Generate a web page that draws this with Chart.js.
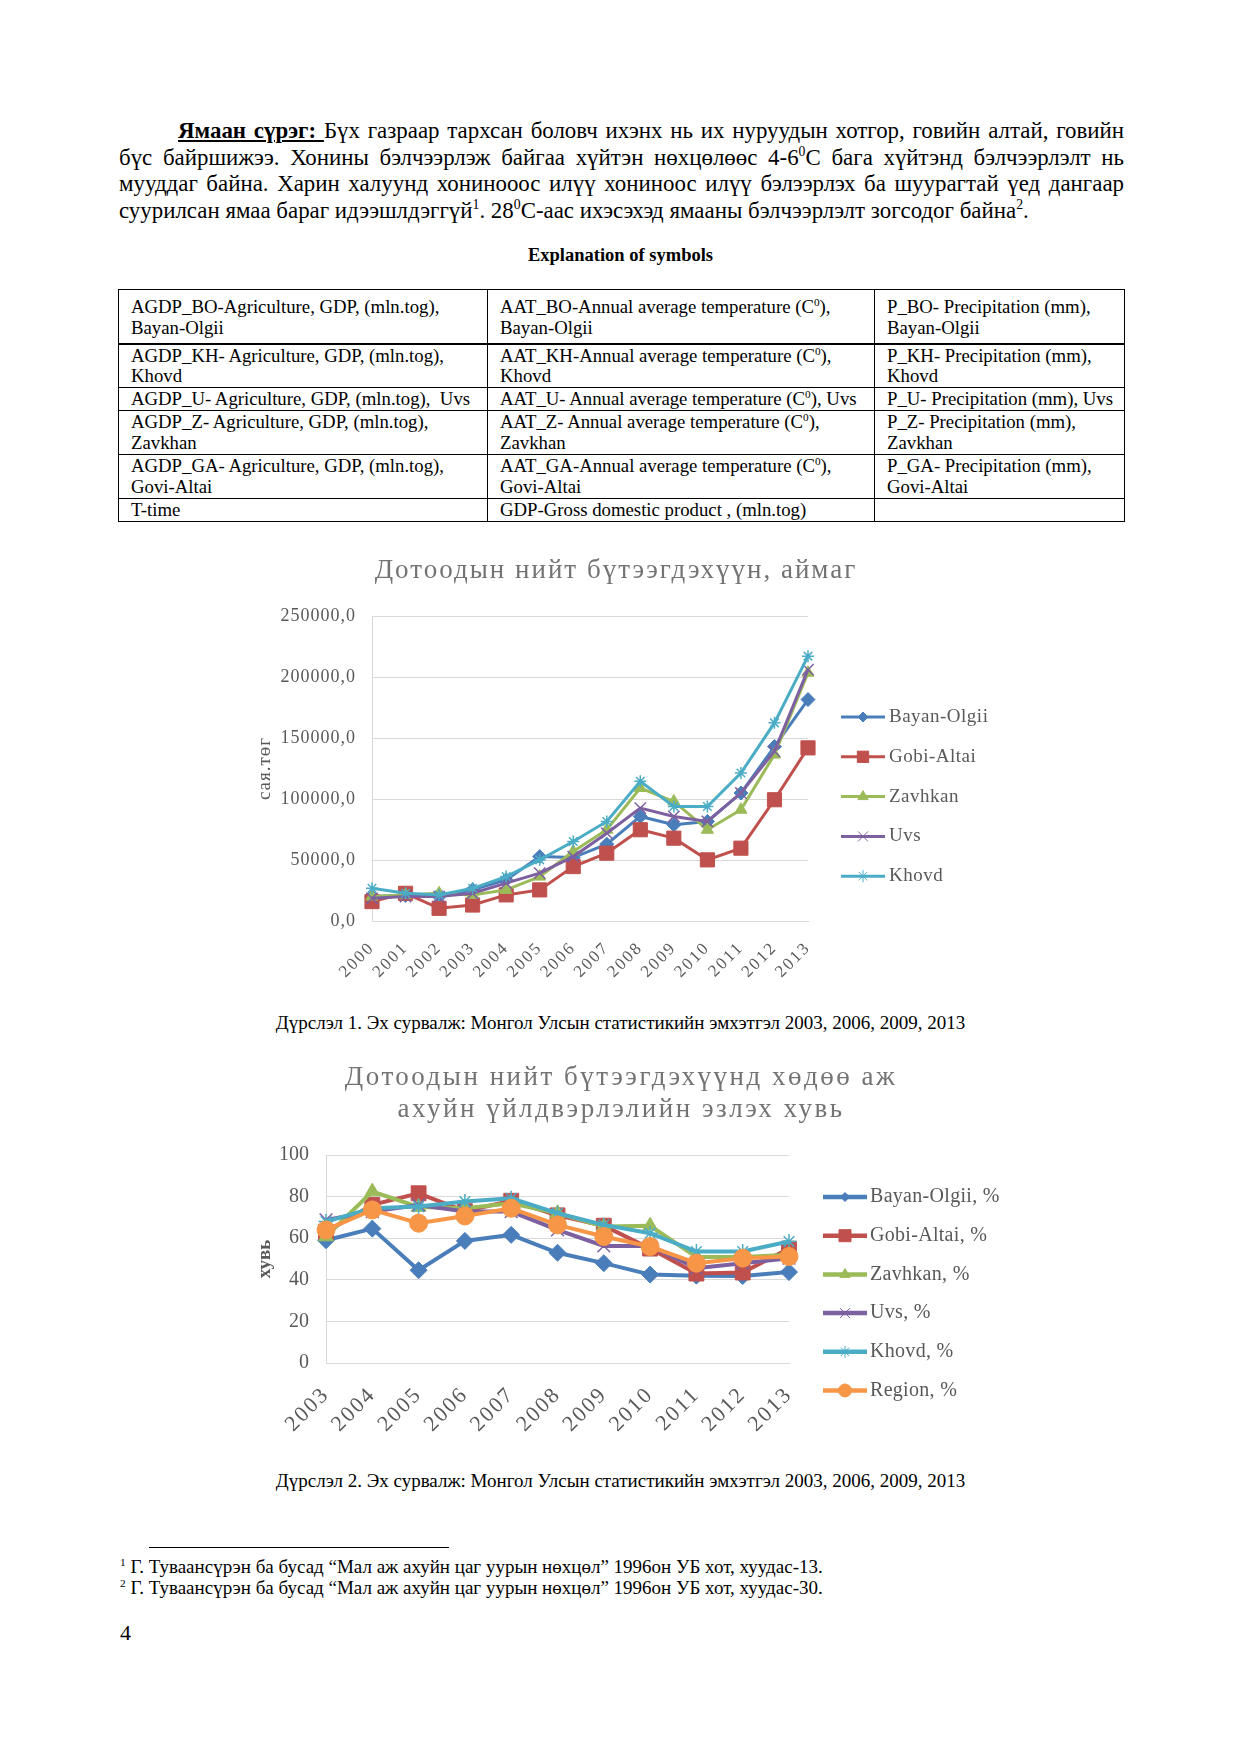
<!DOCTYPE html>
<html>
<head>
<meta charset="utf-8">
<script src="https://cdn.jsdelivr.net/npm/chart.js@4.4.1/dist/chart.umd.min.js"></script>
<style>
  html, body { margin: 0; padding: 0; background: #fff; }
  #page { position: relative; width: 1241px; height: 1755px; font-family: "Liberation Serif", "Times New Roman", serif; color: #000; }
  .abs { position: absolute; }
  .para { left: 119px; width: 1005px; top: 118px; font-size: 22.9px; line-height: 26.6px; }
  .ln { text-align: justify; text-align-last: justify; }
  .ln.last { text-align: left; text-align-last: left; }
  sup { font-size: 60%; line-height: 0; vertical-align: super; }
  .expl { left: 0; width: 1241px; top: 245px; text-align: center; font-weight: bold; font-size: 18.5px; }
  table { position: absolute; left: 118px; top: 289px; border-collapse: collapse; table-layout: fixed; font-size: 18.75px; line-height: 20.7px; }
  td { border: 1px solid #000; vertical-align: top; padding: 1px 0 0 12px; box-sizing: border-box; }
  tr.r1 td { padding-top: 7px; border-bottom: 2.5px solid #000; }
  .cap { left: 0; width: 1241px; text-align: center; font-size: 19px; }
  .fn { left: 120px; font-size: 19px; line-height: 21px; }
  canvas { position: absolute; }
</style>
</head>
<body>
<div id="page">
  <div class="abs para">
    <div class="ln" style="text-indent:59px"><b><u>Ямаан сүрэг: </u></b>Бүх газраар тархсан боловч ихэнх нь их нуруудын хотгор, говийн алтай, говийн</div>
    <div class="ln">бүс байршижээ. Хонины бэлчээрлэж байгаа хүйтэн нөхцөлөөс 4-6<sup>0</sup>C бага хүйтэнд бэлчээрлэлт нь</div>
    <div class="ln">мууддаг байна. Харин халуунд хонинооос илүү хониноос илүү бэлээрлэх ба шуурагтай үед дангаар</div>
    <div class="ln last">суурилсан ямаа бараг идээшлдэггүй<sup>1</sup>. 28<sup>0</sup>С-аас ихэсэхэд ямааны бэлчээрлэлт зогсодог байна<sup>2</sup>.</div>
  </div>

  <div class="abs expl">Explanation of symbols</div>

  <table>
    <colgroup><col style="width:369px"><col style="width:387px"><col style="width:250px"></colgroup>
    <tr class="r1" style="height:54px">
      <td>AGDP_BO-Agriculture, GDP, (mln.tog),<br>Bayan-Olgii</td>
      <td>AAT_BO-Annual average temperature (C<sup>0</sup>),<br>Bayan-Olgii</td>
      <td>P_BO- Precipitation (mm),<br>Bayan-Olgii</td>
    </tr>
    <tr style="height:44px">
      <td>AGDP_KH- Agriculture, GDP, (mln.tog),<br>Khovd</td>
      <td>AAT_KH-Annual average temperature (C<sup>0</sup>),<br>Khovd</td>
      <td>P_KH- Precipitation (mm),<br>Khovd</td>
    </tr>
    <tr style="height:23px">
      <td>AGDP_U- Agriculture, GDP, (mln.tog),&nbsp; Uvs</td>
      <td>AAT_U- Annual average temperature (C<sup>0</sup>), Uvs</td>
      <td>P_U- Precipitation (mm), Uvs</td>
    </tr>
    <tr style="height:44px">
      <td>AGDP_Z- Agriculture, GDP, (mln.tog),<br>Zavkhan</td>
      <td>AAT_Z- Annual average temperature (C<sup>0</sup>),<br>Zavkhan</td>
      <td>P_Z- Precipitation (mm),<br>Zavkhan</td>
    </tr>
    <tr style="height:44px">
      <td>AGDP_GA- Agriculture, GDP, (mln.tog),<br>Govi-Altai</td>
      <td>AAT_GA-Annual average temperature (C<sup>0</sup>),<br>Govi-Altai</td>
      <td>P_GA- Precipitation (mm),<br>Govi-Altai</td>
    </tr>
    <tr style="height:22px">
      <td>T-time</td>
      <td>GDP-Gross domestic product , (mln.tog)</td>
      <td></td>
    </tr>
  </table>

  <canvas id="gdp-chart" width="780" height="460" style="left:240px;top:540px"></canvas>
  <div class="abs cap" style="top:1012px">Дүрслэл 1. Эх сурвалж: Монгол Улсын статистикийн эмхэтгэл 2003, 2006, 2009, 2013</div>

  <canvas id="share-chart" width="780" height="400" style="left:240px;top:1050px"></canvas>
  <div class="abs cap" style="top:1470px">Дүрслэл 2. Эх сурвалж: Монгол Улсын статистикийн эмхэтгэл 2003, 2006, 2009, 2013</div>

  <div class="abs" style="left:149px;top:1547px;width:300px;border-top:1px solid #000"></div>
  <div class="abs fn" style="top:1556px"><sup>1</sup> Г. Туваансүрэн ба бусад “Мал аж ахуйн цаг уурын нөхцөл” 1996он УБ хот, хуудас-13.<br><sup>2</sup> Г. Туваансүрэн ба бусад “Мал аж ахуйн цаг уурын нөхцөл” 1996он УБ хот, хуудас-30.</div>
  <div class="abs" style="left:120px;top:1620px;font-size:22px">4</div>
</div>

<script>
// Data - chart 1 (GDP by aimag, mln. tog)
const years1 = ['2000', '2001', '2002', '2003', '2004', '2005', '2006', '2007', '2008', '2009', '2010', '2011', '2012', '2013'];
const bayanOlgii1 = [20000, 21000, 20000, 25500, 33700, 52800, 52000, 63000, 85700, 78900, 81600, 104900, 143000, 181500];
const gobiAltai1 = [15900, 22700, 10400, 13100, 21400, 25500, 44600, 55600, 74800, 67900, 50100, 59700, 99400, 141900];
const zavhkan1 = [20000, 21400, 22700, 21400, 25500, 36400, 57000, 74800, 109000, 98000, 74800, 91200, 136400, 203500];
const uvs1 = [18600, 20000, 20000, 22700, 31000, 39200, 52800, 72000, 92500, 85700, 81600, 104900, 139100, 206000];
const khovd1 = [26800, 22700, 21400, 26800, 36400, 50100, 65200, 81600, 114500, 93900, 93900, 121300, 162400, 217100];
const yTicks1 = [0, 50000, 100000, 150000, 200000, 250000];

// Data - chart 2 (agriculture share of GDP, %)
const years2 = ['2003', '2004', '2005', '2006', '2007', '2008', '2009', '2010', '2011', '2012', '2013'];
const bayanOlgii2 = [59, 64.6, 44.6, 58.7, 61.6, 53, 48, 42.5, 42, 41.8, 43.7];
const gobiAltai2 = [63, 76, 81.6, 73, 78, 71, 66, 55, 43, 43.5, 55];
const zavhkan2 = [60.8, 82.4, 75, 74.4, 76.8, 72, 65.6, 66, 51, 51, 52];
const uvs2 = [68.8, 72.8, 76, 72.8, 72.8, 64, 56.3, 56.3, 45.6, 48, 50.4];
const khovd2 = [68, 74.4, 75.2, 77.6, 79.2, 72, 66.4, 62.4, 53.6, 53.6, 58.4];
const region2 = [64, 73.6, 67.2, 70.7, 74.4, 66.4, 60.8, 56, 48, 50.4, 51.2];
const yTicks2 = [0, 20, 40, 60, 80, 100];


// General
Chart.defaults.font.family = "'Liberation Serif', 'Times New Roman', serif";
Chart.defaults.color = '#595959';
Chart.defaults.animation = false;

const textGray = '#595959';
const gridGray = '#d9d9d9';

// series look: name, colour, marker, marker radius, legend radius
const makeSet = (label, data, color, style, radius, legRadius, lineWidth, order) => {
    const stroked = style === 'crossRot' || style === 'star';
    return {
        label: label,
        data: data,
        borderColor: color,
        backgroundColor: color,
        borderWidth: lineWidth,
        pointStyle: style,
        pointRadius: radius,
        pointBackgroundColor: color,
        pointBorderColor: color,
        pointBorderWidth: stroked ? 1.5 : 1,
        legendRadius: legRadius,
        tension: 0,
        order: order
    };
};

// letter spacing for tick labels (y ticks drawn before datasets, x ticks after)
const spacing = {
    id: 'spacing',
    beforeDraw(chart, args, o) { chart.ctx.letterSpacing = o.y; },
    afterDatasetsDraw(chart, args, o) { chart.ctx.letterSpacing = o.x; },
    afterDraw(chart) { chart.ctx.letterSpacing = '0px'; }
};

// title + right legend drawn on the canvas
const extras = {
    id: 'extras',
    afterDraw(chart, args, o) {
        const ctx = chart.ctx;
        ctx.save();
        ctx.fillStyle = o.titleColor;
        ctx.font = o.titleFont;
        ctx.letterSpacing = o.titleSpacing;
        ctx.textAlign = 'center';
        ctx.textBaseline = 'middle';
        o.title.forEach((t, i) => ctx.fillText(t, o.titleX, o.titleY + i * o.titleGap));

        ctx.letterSpacing = o.legSpacing;
        chart.data.datasets.forEach((ds, i) => {
            const y = o.legY + i * o.legGap;
            ctx.strokeStyle = ds.borderColor;
            ctx.lineWidth = o.legLine;
            ctx.beginPath();
            ctx.moveTo(o.legX, y);
            ctx.lineTo(o.legX + o.legLen, y);
            ctx.stroke();
            ctx.fillStyle = ds.pointBackgroundColor;
            ctx.strokeStyle = ds.pointBorderColor;
            ctx.lineWidth = 1;
            Chart.helpers.drawPoint(ctx, {
                pointStyle: ds.pointStyle,
                radius: ds.legendRadius,
                borderWidth: 1,
                rotation: 0
            }, o.legX + o.legLen / 2, y);
            ctx.fillStyle = textGray;
            ctx.font = o.legFont;
            ctx.textAlign = 'left';
            ctx.fillText(ds.label, o.legX + o.legLen + o.legTextGap, y);
        });
        ctx.restore();
    }
};


// Chart 1
new Chart(document.getElementById('gdp-chart'), {
    type: 'line',
    data: {
        labels: years1,
        datasets: [
            makeSet('Bayan-Olgii', bayanOlgii1, '#4a7ebb', 'rectRot', 7, 5, 3, 5),
            makeSet('Gobi-Altai', gobiAltai1, '#c0504d', 'rect', 10, 8, 3, 4),
            makeSet('Zavhkan', zavhkan1, '#9bbb59', 'triangle', 7, 6, 3, 3),
            makeSet('Uvs', uvs1, '#7d60a0', 'crossRot', 8, 7, 3, 2),
            makeSet('Khovd', khovd1, '#4bacc6', 'star', 6, 6, 3, 1)
        ]
    },
    options: {
        responsive: false,
        layout: { padding: { top: 76, right: 212, left: 0, bottom: 0 } },
        scales: {
            x: {
                grid: { display: false },
                border: { color: gridGray, width: 1 },
                ticks: { autoSkip: false, minRotation: 45, maxRotation: 45, padding: 9, z: 1, font: { size: 17 }, color: textGray },
                afterFit: s => { s.height = 79; }
            },
            y: {
                min: 0,
                max: 250000,
                afterBuildTicks: s => { s.ticks = yTicks1.map(v => ({ value: v })); },
                grid: { color: gridGray, drawTicks: false },
                border: { color: gridGray, width: 1 },
                ticks: {
                    padding: 16,
                    font: { size: 18 },
                    color: textGray,
                    callback: v => v.toFixed(1).replace('.', ',')
                },
                title: { display: true, text: 'сая.төг', font: { size: 19 }, color: textGray, padding: { top: 14, bottom: 0 } },
                afterFit: s => { s.width = 132; }
            }
        },
        plugins: {
            legend: { display: false },
            tooltip: { enabled: false },
            spacing: { x: '2px', y: '1px' },
            extras: {
                title: ['Дотоодын нийт бүтээгдэхүүн, аймаг'],
                titleX: 376, titleY: 31, titleGap: 0,
                titleFont: '27px "Liberation Serif"', titleColor: '#737373', titleSpacing: '2px',
                legX: 601, legY: 177, legGap: 39.8, legLen: 44, legTextGap: 4, legLine: 3,
                legFont: '19px "Liberation Serif"', legSpacing: '0.5px'
            }
        }
    },
    plugins: [spacing, extras]
});


// Chart 2
new Chart(document.getElementById('share-chart'), {
    type: 'line',
    data: {
        labels: years2,
        datasets: [
            makeSet('Bayan-Olgii, %', bayanOlgii2, '#4a7ebb', 'rectRot', 8.5, 4.5, 4, 6),
            makeSet('Gobi-Altai, %', gobiAltai2, '#c0504d', 'rect', 10.5, 8.5, 4, 5),
            makeSet('Zavhkan, %', zavhkan2, '#9bbb59', 'triangle', 8.5, 6, 4, 4),
            makeSet('Uvs, %', uvs2, '#7d60a0', 'crossRot', 9, 7, 4, 3),
            makeSet('Khovd, %', khovd2, '#4bacc6', 'star', 7.5, 6, 4, 2),
            makeSet('Region, %', region2, '#f79646', 'circle', 9, 6.5, 4, 1)
        ]
    },
    options: {
        responsive: false,
        layout: { padding: { top: 105, right: 231, left: 0, bottom: 0 } },
        scales: {
            x: {
                grid: { display: false },
                border: { color: gridGray, width: 1 },
                ticks: { autoSkip: false, minRotation: 45, maxRotation: 45, padding: 11, z: 1, font: { size: 22 }, color: textGray },
                afterFit: s => { s.height = 87; }
            },
            y: {
                min: 0,
                max: 100,
                afterBuildTicks: s => { s.ticks = yTicks2.map(v => ({ value: v })); },
                grid: { color: gridGray, drawTicks: false },
                border: { color: gridGray, width: 1 },
                ticks: { padding: 17, font: { size: 20 }, color: textGray },
                title: { display: true, text: 'хувь', font: { size: 19, weight: 'bold' }, color: textGray, padding: { top: 14, bottom: 0 } },
                afterFit: s => { s.width = 86; }
            }
        },
        plugins: {
            legend: { display: false },
            tooltip: { enabled: false },
            spacing: { x: '2px', y: '0px' },
            extras: {
                title: ['Дотоодын нийт бүтээгдэхүүнд хөдөө аж', 'ахуйн үйлдвэрлэлийн эзлэх хувь'],
                titleX: 381, titleY: 28, titleGap: 32,
                titleFont: '27px "Liberation Serif"', titleColor: '#737373', titleSpacing: '2.5px',
                legX: 583, legY: 147, legGap: 38.7, legLen: 44, legTextGap: 3, legLine: 4.5,
                legFont: '20px "Liberation Serif"', legSpacing: '0.3px'
            }
        }
    },
    plugins: [spacing, extras]
});
</script>
</body>
</html>
